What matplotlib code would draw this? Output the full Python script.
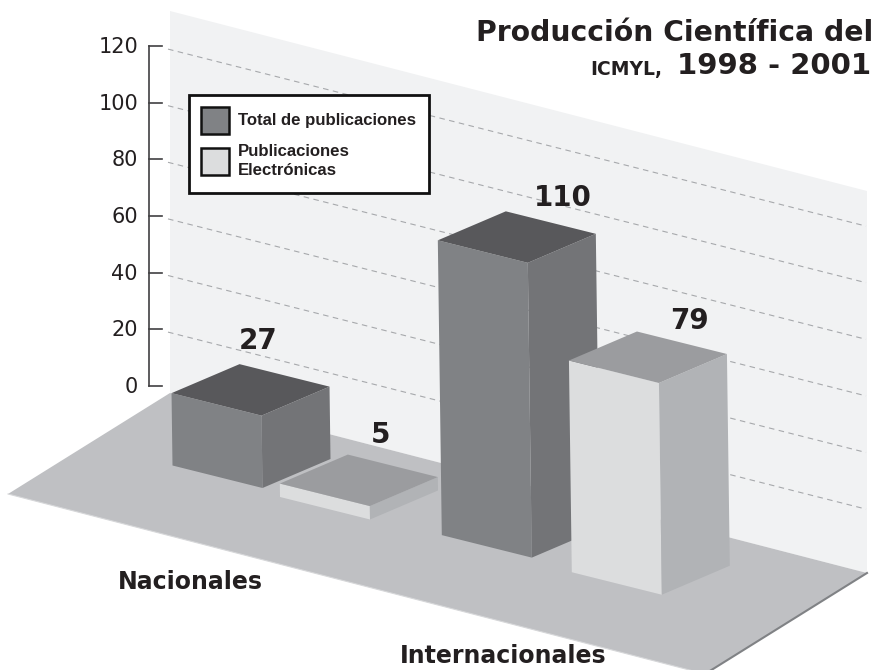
# Produccion cientifica del ICMYL - 3D bars drawn on a flat axes
import numpy as np
import matplotlib
matplotlib.use("Agg")
import matplotlib.pyplot as plt
from matplotlib.patches import Polygon, Rectangle

# Data
categories = ["Nacionales", "Internacionales"]
series_names = ["Total de publicaciones", "Publicaciones\nElectrónicas"]
total_pub = [27, 110]
electronic_pub = [5, 79]
tick_values = [0, 20, 40, 60, 80, 100, 120]

# Colours: front, side, top
total_colors = ("#808285", "#737477", "#58585b")
electronic_colors = ("#dcddde", "#b1b3b6", "#9b9c9f")
text_color = "#231f20"

# Oblique projection, all in image pixels
wall_origin = np.array([170.0, 393.0])
wall_dir = np.array([697.0, 180.0])
floor_dir = np.array([-162.0, 101.0])
tick_scale = 2.83
bar_scale = 2.68
bar_lean = 0.0135
bar_x = np.array([90.0, 22.5])
bar_d = np.array([68.0, -29.0])
bar_anchor = np.array([172.5, 465.5])

# slot along the wall and depth offset for [group][series]
slots = [[0.0, 1.27], [3.03, 4.55]]
depth = [[0.0, -0.1], [-0.05, -0.15]]


def draw_bar(ax, slot, d, value, colors):
    base = bar_anchor + slot * bar_x + d * bar_d
    h = value * bar_scale
    up = np.array([-bar_lean * h, -h])
    a, b, c, e = base, base + bar_x, base + bar_x + bar_d, base + bar_d
    ax.add_patch(Polygon([a, b, b + up, a + up], fc=colors[0], ec="none", zorder=3))
    ax.add_patch(Polygon([b, c, c + up, b + up], fc=colors[1], ec="none", zorder=3))
    ax.add_patch(Polygon([a + up, b + up, c + up, e + up], fc=colors[2], ec="none", zorder=3))


fig = plt.figure(figsize=(8.75, 6.7), dpi=100)
ax = fig.add_axes([0, 0, 1, 1])
ax.set_xlim(0, 875)
ax.set_ylim(670, 0)
ax.axis("off")

# Wall and floor
wall_up = np.array([0, -382.0])
ax.add_patch(Polygon([wall_origin, wall_origin + wall_dir, wall_origin + wall_dir + wall_up,
                      wall_origin + wall_up], fc="#f1f2f3", ec="none", zorder=1))
ax.add_patch(Polygon([wall_origin, wall_origin + wall_dir, wall_origin + wall_dir + floor_dir,
                      wall_origin + floor_dir], fc="#bfc0c3", ec="none", zorder=2))
front_l = wall_origin + floor_dir
front_r = front_l + wall_dir
right = wall_origin + wall_dir
ax.plot([front_l[0], front_r[0]], [front_l[1], front_r[1]], color="#d6d7d9", lw=0.8, zorder=2)
ax.plot([right[0], front_r[0]], [right[1], front_r[1]], color="#808285", lw=1.5, zorder=2)

# Axis, ticks and dashed grid on the wall
y0 = 385.7
ax.plot([149, 149], [y0, y0 - 120 * tick_scale], color="#414042", lw=1.2, zorder=2)
for t in tick_values:
    y = y0 - t * tick_scale
    ax.plot([149, 162], [y, y], color="#414042", lw=1.2, zorder=2)
    ax.text(138, y + 1, str(t), ha="right", va="center", fontsize=15, color=text_color)
    if t > 0:
        ax.plot([168, 866], [y + 3, y + 3 + 177], color="#a7a9ac", lw=0.8,
                dashes=(5, 4), zorder=1.5)

# Bars
for g in range(len(categories)):
    draw_bar(ax, slots[g][0], depth[g][0], total_pub[g], total_colors)
    draw_bar(ax, slots[g][1], depth[g][1], electronic_pub[g], electronic_colors)

# Value labels
label_xy = [[(258, 341), (381, 435)], [(563, 198), (689, 321)]]
for g in range(len(categories)):
    vals = [total_pub[g], electronic_pub[g]]
    for s in range(2):
        ax.text(label_xy[g][s][0], label_xy[g][s][1], str(vals[s]), ha="center", va="center",
                fontsize=20, fontweight="bold", color=text_color, zorder=4)

# Category labels
ax.text(190.5, 582, categories[0], ha="center", va="center", fontsize=17,
        fontweight="bold", color=text_color)
ax.text(503.5, 656, categories[1], ha="center", va="center", fontsize=17,
        fontweight="bold", color=text_color)

# Title
ax.text(873, 33, "Producción Científica del", ha="right", va="center", fontsize=20.3,
        fontweight="bold", color=text_color)
ax.text(871, 66, "1998 - 2001", ha="right", va="center", fontsize=21,
        fontweight="bold", color=text_color)
ax.text(662, 69, "ICMYL,", ha="right", va="center", fontsize=13.5,
        fontweight="bold", color=text_color)

# Legend
ax.add_patch(Rectangle((189, 95), 240, 98, fc="white", ec="#111111", lw=2, zorder=5))
ax.add_patch(Rectangle((201, 107), 28, 27, fc=total_colors[0], ec="#111111", lw=1.8, zorder=6))
ax.add_patch(Rectangle((201, 148), 28, 27, fc=electronic_colors[0], ec="#111111", lw=1.8, zorder=6))
ax.text(238, 120, series_names[0], ha="left", va="center", fontsize=12.1, family="Liberation Sans",
        fontweight="bold", color=text_color, zorder=6)
ax.text(238, 161, series_names[1], ha="left", va="center", fontsize=12.1, family="Liberation Sans",
        fontweight="bold", color=text_color, linespacing=1.3, zorder=6)

fig.savefig("out.png", dpi=100)
